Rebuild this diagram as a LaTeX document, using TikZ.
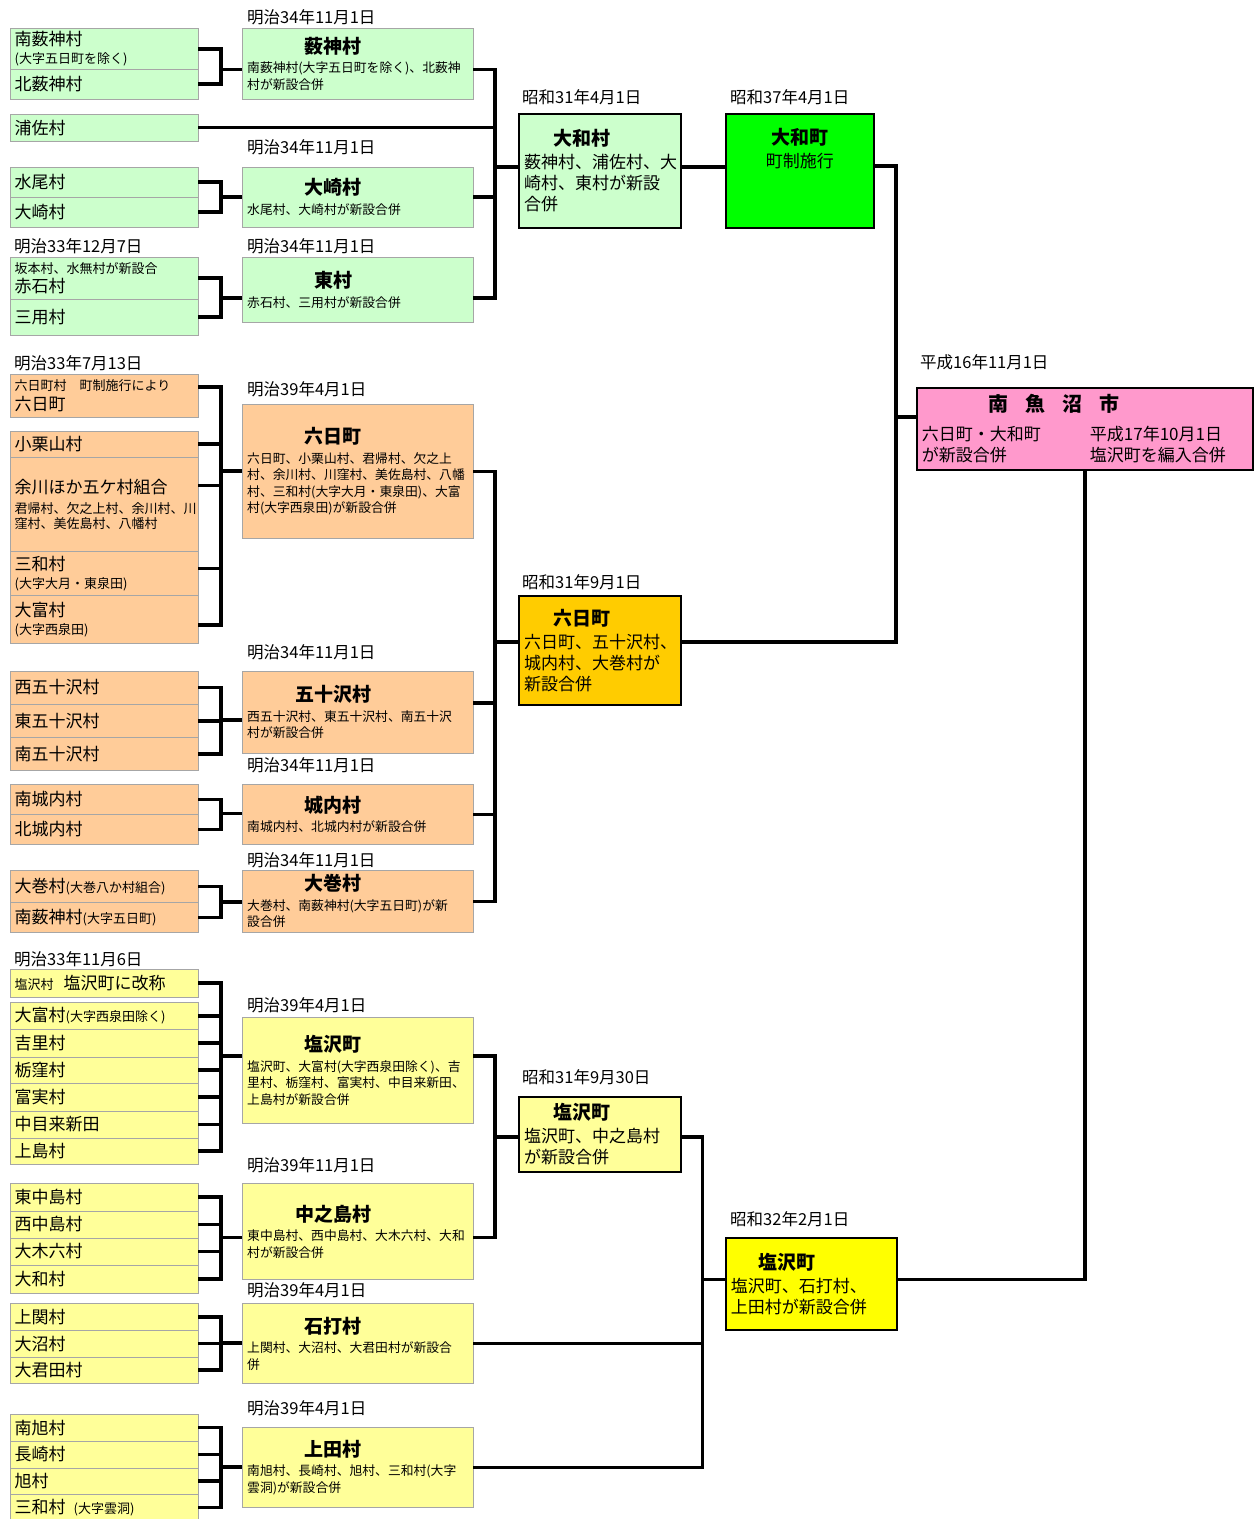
\documentclass[tikz,border=0pt]{standalone}
\usepackage{fontspec}
\setmainfont{Noto Sans CJK JP}
\usetikzlibrary{calc}
\definecolor{PaleGreen}{HTML}{CCFFCC}
\definecolor{Peach}{HTML}{FFCC99}
\definecolor{PaleYellow}{HTML}{FFFF99}
\definecolor{Lime}{HTML}{00FF00}
\definecolor{Amber}{HTML}{FFCC00}
\definecolor{Lemon}{HTML}{FFFF00}
\definecolor{Pink}{HTML}{FF99CC}
\newcommand{\smalltxt}{\fontsize{13}{15}\selectfont}
\newcommand{\ttl}[1]{\makebox[172pt][c]{\fontsize{19}{20}\selectfont\bfseries #1}}
\newcommand{\bigttl}[1]{\makebox[115pt][c]{\fontsize{19}{20}\selectfont\bfseries #1}}
\tikzset{
    row/.style={draw=black!35, anchor=north west, minimum width=188pt, text width=179pt, inner xsep=4.5pt, inner ysep=0pt, align=left, font=\fontsize{17}{20}\selectfont},
    mid/.style={draw=black!35, anchor=north west, minimum width=230.4pt, text width=221pt, inner xsep=4.7pt, inner ysep=0pt, align=left, font=\fontsize{12.8}{16.5}\selectfont},
    big/.style={draw=black, line width=1.8pt, anchor=north west, inner xsep=5pt, inner ysep=0pt, align=left, font=\fontsize{17}{21}\selectfont},
    date/.style={anchor=west, inner sep=0pt, font=\fontsize{16.5}{18}\selectfont},
    link/.style={line width=3.6pt}
}

\begin{document}
\begin{tikzpicture}[x=1pt, y=-1pt]
\useasboundingbox (0,0) rectangle (1255,1519);

% dates
\node[date] (d1) at (247,17.3) {明治34年11月1日};
\node[date] (d2) at (247,147.7) {明治34年11月1日};
\node[date] (d3) at (14,246.7) {明治33年12月7日};
\node[date] (d4) at (247,246.7) {明治34年11月1日};
\node[date] (d5) at (522,96.7) {昭和31年4月1日};
\node[date] (d6) at (730,96.7) {昭和37年4月1日};
\node[date] (d7) at (920,362) {平成16年11月1日};
\node[date] (d8) at (14,363.3) {明治33年7月13日};
\node[date] (d9) at (247,389) {明治39年4月1日};
\node[date] (d10) at (522,581.7) {昭和31年9月1日};
\node[date] (d11) at (247,652) {明治34年11月1日};
\node[date] (d12) at (247,765) {明治34年11月1日};
\node[date] (d13) at (247,860) {明治34年11月1日};
\node[date] (d14) at (14,959) {明治33年11月6日};
\node[date] (d15) at (247,1005.7) {明治39年4月1日};
\node[date] (d16) at (522,1077) {昭和31年9月30日};
\node[date] (d17) at (247,1165) {明治39年11月1日};
\node[date] (d18) at (730,1219) {昭和32年2月1日};
\node[date] (d19) at (247,1290.7) {明治39年4月1日};
\node[date] (d20) at (247,1408.3) {明治39年4月1日};

% Yamato
\node[row, fill=PaleGreen, minimum height=41pt] (yabuS) at (10,28) {南薮神村\\[-2pt]{\smalltxt (大字五日町を除く)}};
\node[row, fill=PaleGreen, minimum height=30pt] (yabuN) at (10,69) {北薮神村};
\node[row, fill=PaleGreen, minimum height=27.5pt] (urasa) at (10,113.7) {浦佐村};
\node[row, fill=PaleGreen, minimum height=30pt] (mizuo) at (10,166.7) {水尾村};
\node[row, fill=PaleGreen, minimum height=30.3pt] (osaki) at (10,196.7) {大崎村};
\node[row, fill=PaleGreen, minimum height=41.4pt] (akaishi) at (10,257.3) {{\smalltxt 坂本村、水無村が新設合}\\[-1pt]赤石村};
\node[row, fill=PaleGreen, minimum height=36.3pt] (sanyo) at (10,298.7) {三用村};

\node[mid, fill=PaleGreen, minimum height=71.3pt] (yabuM) at (242.3,28) {\ttl{薮神村}\\[3pt]南薮神村(大字五日町を除く)、北薮神\\村が新設合併};
\node[mid, fill=PaleGreen, minimum height=60.3pt] (osakiM) at (242.3,166.7) {\ttl{大崎村}\\[3pt]水尾村、大崎村が新設合併};
\node[mid, fill=PaleGreen, minimum height=64.7pt] (higashi) at (242.3,257.3) {\ttl{東村}\\[3pt]赤石村、三用村が新設合併};

\node[big, fill=PaleGreen, minimum width=161.7pt, text width=151.7pt, minimum height=113.4pt] (yamatoV) at (518.3,113.3) {\bigttl{大和村}\\[2pt]薮神村、浦佐村、大\\崎村、東村が新設\\合併};
\node[big, fill=Lime, align=center, minimum width=147.7pt, text width=137.7pt, minimum height=113.4pt] (yamatoT) at (725,113.3) {{\fontsize{19}{20}\selectfont\bfseries 大和町}\\[2pt]町制施行\\[25pt]\mbox{}};

% Muikamachi
\node[row, fill=Peach, minimum height=43.3pt] (muikaV) at (10,374) {{\smalltxt 六日町村\hspace{13pt}町制施行により}\\六日町};
\node[row, fill=Peach, minimum height=26.6pt] (koguri) at (10,430.7) {小栗山村};
\node[row, fill=Peach, minimum height=94pt] (yokawa) at (10,457.3) {余川ほか五ケ村組合\\{\smalltxt 君帰村、欠之上村、余川村、川}\\[-5pt]{\smalltxt 窪村、美佐島村、八幡村}};
\node[row, fill=Peach, minimum height=44pt] (sanwaA) at (10,551.3) {三和村\\[-2pt]{\smalltxt (大字大月・東泉田)}};
\node[row, fill=Peach, minimum height=47.4pt] (otomiA) at (10,595.3) {大富村\\[-2pt]{\smalltxt (大字西泉田)}};
\node[row, fill=Peach, minimum height=33.3pt] (igaW) at (10,670.7) {西五十沢村};
\node[row, fill=Peach, minimum height=33.3pt] (igaE) at (10,704) {東五十沢村};
\node[row, fill=Peach, minimum height=32.7pt] (igaS) at (10,737.3) {南五十沢村};
\node[row, fill=Peach, minimum height=30pt] (jonaiS) at (10,784.3) {南城内村};
\node[row, fill=Peach, minimum height=29.7pt] (jonaiN) at (10,814.3) {北城内村};
\node[row, fill=Peach, minimum height=32.3pt] (omaki) at (10,870) {大巻村{\smalltxt (大巻八か村組合)}};
\node[row, fill=Peach, minimum height=30pt] (yabuO) at (10,902.3) {南薮神村{\smalltxt (大字五日町)}};

\node[mid, fill=Peach, minimum height=134pt] (muikaM) at (242.3,404.3) {\ttl{六日町}\\[3pt]六日町、小栗山村、君帰村、欠之上\\村、余川村、川窪村、美佐島村、八幡\\村、三和村(大字大月・東泉田)、大富\\村(大字西泉田)が新設合併};
\node[mid, fill=Peach, minimum height=82.6pt] (igaM) at (242.3,670.7) {\ttl{五十沢村}\\[3pt]西五十沢村、東五十沢村、南五十沢\\村が新設合併};
\node[mid, fill=Peach, minimum height=59.7pt] (jonaiM) at (242.3,784.3) {\ttl{城内村}\\[3pt]南城内村、北城内村が新設合併};
\node[mid, fill=Peach, minimum height=62.3pt] (omakiM) at (242.3,870) {\ttl{大巻村}\\[3pt]大巻村、南薮神村(大字五日町)が新\\設合併};

\node[big, fill=Amber, minimum width=161.7pt, text width=151.7pt, minimum height=109.3pt] (muikaT) at (518.3,595) {\bigttl{六日町}\\[2pt]六日町、五十沢村、\\城内村、大巻村が\\新設合併};

% Shiozawa
\node[row, fill=PaleYellow, minimum height=27.4pt] (shioV) at (10,969.3) {{\smalltxt 塩沢村}\hspace{10pt}塩沢町に改称};
\node[row, fill=PaleYellow, minimum height=27.3pt] (otomiB) at (10,1002) {大富村{\smalltxt (大字西泉田除く)}};
\node[row, fill=PaleYellow, minimum height=27.4pt] (yoshida) at (10,1029.3) {吉里村};
\node[row, fill=PaleYellow, minimum height=26.6pt] (tochi) at (10,1056.7) {栃窪村};
\node[row, fill=PaleYellow, minimum height=27.4pt] (tomizane) at (10,1083.3) {富実村};
\node[row, fill=PaleYellow, minimum height=27pt] (nakanome) at (10,1110.7) {中目来新田};
\node[row, fill=PaleYellow, minimum height=26.3pt] (kamishima) at (10,1137.7) {上島村};
\node[row, fill=PaleYellow, minimum height=27.4pt] (nakajE) at (10,1183.3) {東中島村};
\node[row, fill=PaleYellow, minimum height=27pt] (nakajW) at (10,1210.7) {西中島村};
\node[row, fill=PaleYellow, minimum height=27pt] (ogiroku) at (10,1237.7) {大木六村};
\node[row, fill=PaleYellow, minimum height=28.6pt] (yamatoM) at (10,1264.7) {大和村};
\node[row, fill=PaleYellow, minimum height=26.7pt] (kamiseki) at (10,1303.3) {上関村};
\node[row, fill=PaleYellow, minimum height=26.7pt] (onuma) at (10,1330) {大沼村};
\node[row, fill=PaleYellow, minimum height=26.6pt] (okimita) at (10,1356.7) {大君田村};
\node[row, fill=PaleYellow, minimum height=26.7pt] (asahiS) at (10,1414) {南旭村};
\node[row, fill=PaleYellow, minimum height=27pt] (nagasaki) at (10,1440.7) {長崎村};
\node[row, fill=PaleYellow, minimum height=26.6pt] (asahi) at (10,1467.7) {旭村};
\node[row, fill=PaleYellow, minimum height=26pt] (sanwaB) at (10,1494.3) {三和村\hspace{8pt}{\smalltxt (大字雲洞)}};

\node[mid, fill=PaleYellow, minimum height=106.6pt] (shioM) at (242.3,1016.7) {\ttl{塩沢町}\\[3pt]塩沢町、大富村(大字西泉田除く)、吉\\里村、栃窪村、富実村、中目来新田、\\上島村が新設合併};
\node[mid, fill=PaleYellow, minimum height=96pt] (nakajM) at (242.3,1183.3) {\ttl{中之島村}\\[3pt]東中島村、西中島村、大木六村、大和\\村が新設合併};
\node[mid, fill=PaleYellow, minimum height=80pt] (ishiuchi) at (242.3,1303.3) {\ttl{石打村}\\[3pt]上関村、大沼村、大君田村が新設合\\併};
\node[mid, fill=PaleYellow, minimum height=80pt] (uedaM) at (242.3,1427.3) {\ttl{上田村}\\[3pt]南旭村、長崎村、旭村、三和村(大字\\雲洞)が新設合併};

\node[big, fill=PaleYellow, minimum width=161.7pt, text width=151.7pt, minimum height=74.7pt] (shioT) at (518.3,1096) {\bigttl{塩沢町}\\[2pt]塩沢町、中之島村\\が新設合併};
\node[big, fill=Lemon, minimum width=171pt, text width=161pt, minimum height=92pt] (shioN) at (725,1237.3) {\makebox[112pt][c]{\fontsize{19}{20}\selectfont\bfseries 塩沢町}\\[2pt]塩沢町、石打村、\\上田村が新設合併};

% Minamiuonuma
\node[big, fill=Pink, minimum width=335.7pt, text width=325.7pt, minimum height=82.3pt] (minamiuonuma) at (916,386.7) {\makebox[264pt][c]{\fontsize{20}{22}\selectfont\bfseries 南\hspace{17pt}魚\hspace{17pt}沼\hspace{17pt}市}\\[8pt]\makebox[168pt][l]{六日町・大和町}平成17年10月1日\\\makebox[168pt][l]{が新設合併}塩沢町を編入合併};

% junctions
\coordinate (jA1) at (221,69.5);
\coordinate (jA2) at (221,196.7);
\coordinate (jA3) at (221,298);
\coordinate (jB1) at (221,471);
\coordinate (jB2) at (221,720);
\coordinate (jB3) at (221,813.3);
\coordinate (jB4) at (221,901.7);
\coordinate (jC1) at (221,1056);
\coordinate (jC2) at (221,1237.3);
\coordinate (jC3) at (221,1342.7);
\coordinate (jC4) at (221,1466.7);
\coordinate (kA) at (495,167);
\coordinate (kB) at (495,641.7);
\coordinate (kC) at (495,1136.7);
\coordinate (kD) at (702.3,1279.3);
\coordinate (kE) at (896,417);

% brackets
\foreach \r in {yabuS,yabuN} \draw[link] (\r.east) -| (jA1);
\foreach \r in {mizuo,osaki} \draw[link] (\r.east) -| (jA2);
\foreach \r in {akaishi,sanyo} \draw[link] (\r.east) -| (jA3);
\draw[link] ([yshift=9pt]muikaV.east) -| (jB1);
\draw[link] ([yshift=19pt]yokawa.east) -| (jB1);
\draw[link] ([yshift=5pt]sanwaA.east) -| (jB1);
\draw[link] ([yshift=-6pt]otomiA.east) -| (jB1);
\draw[link] (koguri.east) -| (jB1);
\foreach \r in {igaW,igaE,igaS} \draw[link] (\r.east) -| (jB2);
\foreach \r in {jonaiS,jonaiN} \draw[link] (\r.east) -| (jB3);
\foreach \r in {omaki,yabuO} \draw[link] (\r.east) -| (jB4);
\foreach \r in {shioV,otomiB,yoshida,tochi,tomizane,nakanome,kamishima} \draw[link] (\r.east) -| (jC1);
\foreach \r in {nakajE,nakajW,ogiroku,yamatoM} \draw[link] (\r.east) -| (jC2);
\foreach \r in {kamiseki,onuma,okimita} \draw[link] (\r.east) -| (jC3);
\foreach \r in {asahiS,nagasaki,asahi,sanwaB} \draw[link] (\r.east) -| (jC4);

\draw[link] (jA1) -- (jA1 -| yabuM.west);
\draw[link] (jA2) -- (jA2 -| osakiM.west);
\draw[link] (jA3) -- (jA3 -| higashi.west);
\draw[link] (jB1) -- (jB1 -| muikaM.west);
\draw[link] (jB2) -- (jB2 -| igaM.west);
\draw[link] (jB3) -- (jB3 -| jonaiM.west);
\draw[link] (jB4) -- (jB4 -| omakiM.west);
\draw[link] (jC1) -- (jC1 -| shioM.west);
\draw[link] (jC2) -- (jC2 -| nakajM.west);
\draw[link] (jC3) -- (jC3 -| ishiuchi.west);
\draw[link] (jC4) -- (jC4 -| uedaM.west);

% mergers
\draw[link] (jA1 -| yabuM.east) -| (kA);
\draw[link] (urasa.east) -| (kA);
\draw[link] (osakiM.east) -| (kA);
\draw[link] (jA3 -| higashi.east) -| (kA);
\draw[link] (kA) -- (kA -| yamatoV.west);
\draw[link] (kA -| yamatoV.east) -- (kA -| yamatoT.west);

\draw[link] (muikaM.east) -| (kB);
\draw[link] ([yshift=9pt]igaM.east) -| (kB);
\draw[link] (jonaiM.east) -| (kB);
\draw[link] (omakiM.east) -| (kB);
\draw[link] (kB) -- (kB -| muikaT.west);

\draw[link] (jC1 -| shioM.east) -| (kC);
\draw[link] (jC2 -| nakajM.east) -| (kC);
\draw[link] (kC) -- (kC -| shioT.west);
\draw[link] (kC -| shioT.east) -| (kD);
\draw[link] (ishiuchi.east) -| (kD);
\draw[link] (uedaM.east) -| (kD);
\draw[link] (kD) -- (kD -| shioN.west);

\draw[link] ([yshift=5pt]yamatoT.east) -| (kE);
\draw[link] (kB -| muikaT.east) -| (kE);
\draw[link] (kE) -- (kE -| minamiuonuma.west);
\draw[link] (kD -| shioN.east) -| (minamiuonuma.south);
\end{tikzpicture}
\end{document}
